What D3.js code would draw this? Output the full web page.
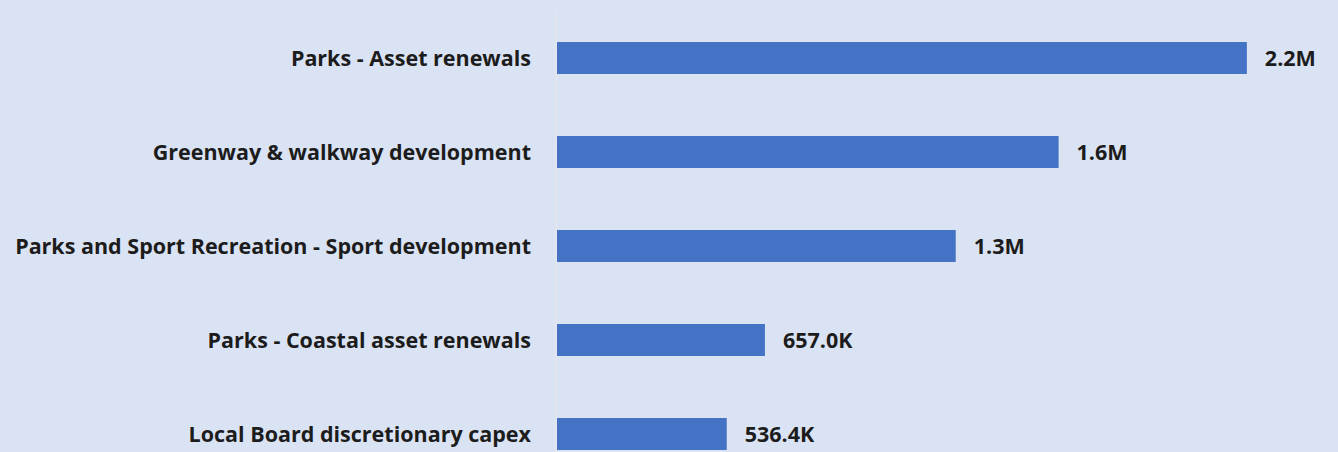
<!DOCTYPE html>
<html>
<head>
<meta charset="utf-8">
<script src="https://cdn.jsdelivr.net/npm/d3@7"></script>
<style>
  html, body { margin: 0; padding: 0; background: #dae3f3; }
  svg { display: block; }
</style>
</head>
<body>
<svg id="chart" width="1338" height="452"></svg>
<script>
const categories = [
  "Parks - Asset renewals",
  "Greenway & walkway development",
  "Parks and Sport Recreation - Sport development",
  "Parks - Coastal asset renewals",
  "Local Board discretionary capex"
];
const values = [2180000, 1585000, 1260000, 657000, 536400];

const fmt = v => v >= 1e6 ? (v / 1e6).toFixed(1) + "M" : (v / 1e3).toFixed(1) + "K";

const W = 1338, H = 452;
const svg = d3.select("#chart");
svg.append("rect").attr("width", W).attr("height", H).attr("fill", "#dae3f3");

const x0 = 557;
const x = d3.scaleLinear().domain([0, 2500000]).range([x0, x0 + 2500000 / 3160]);
const y = d3.scaleBand().domain(categories).range([11, 481]).paddingInner(0.66).paddingOuter(0.33);

// axis line
svg.append("line")
  .attr("x1", x0 - 1).attr("x2", x0 - 1)
  .attr("y1", 12).attr("y2", H)
  .attr("stroke", "#e6e6ec").attr("stroke-width", 1.2);

const font = "'Open Sans', sans-serif";

svg.selectAll("rect.bar").data(categories).join("rect")
  .attr("class", "bar")
  .attr("x", x(0))
  .attr("y", d => y(d))
  .attr("width", (d, i) => x(values[i]) - x(0))
  .attr("height", y.bandwidth())
  .attr("fill", "#4472c4");

svg.selectAll("text.cat").data(categories).join("text")
  .attr("class", "cat")
  .attr("x", 531)
  .attr("y", d => y(d) + y.bandwidth() / 2)
  .attr("dy", "0.36em")
  .attr("text-anchor", "end")
  .attr("font-family", font)
  .attr("font-weight", 700)
  .attr("font-size", 21.5)
  .attr("fill", "#1c1c1c")
  .text(d => d);

svg.selectAll("text.val").data(categories).join("text")
  .attr("class", "val")
  .attr("x", (d, i) => x(values[i]) + 18)
  .attr("y", d => y(d) + y.bandwidth() / 2)
  .attr("dy", "0.36em")
  .attr("font-family", font)
  .attr("font-weight", 700)
  .attr("font-size", 21.5)
  .attr("fill", "#1c1c1c")
  .text((d, i) => fmt(values[i]));
</script>
</body>
</html>
